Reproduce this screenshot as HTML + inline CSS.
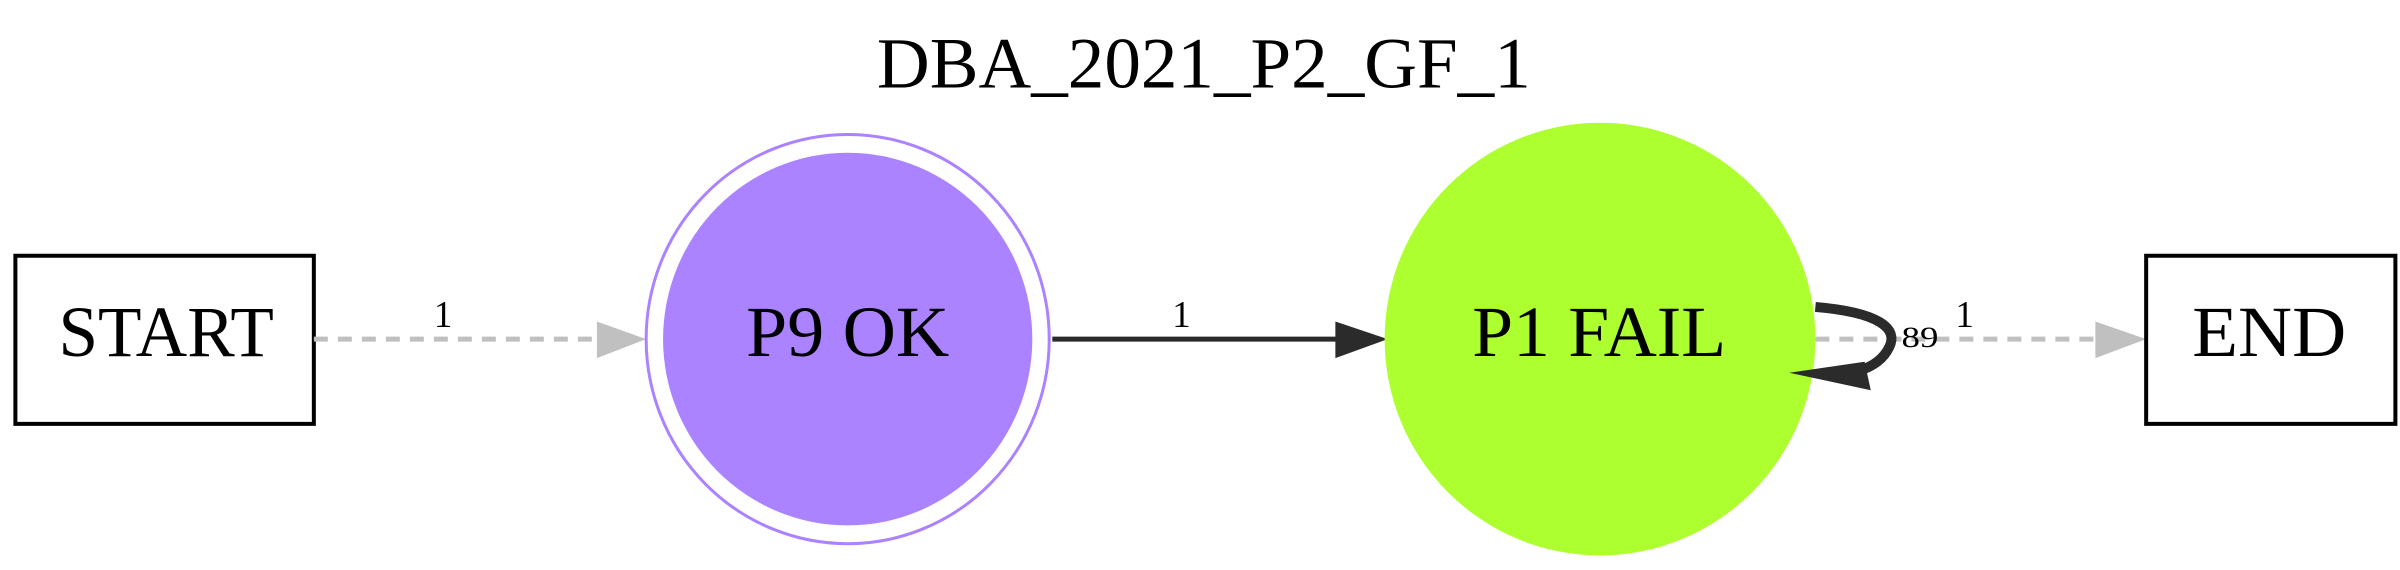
<!DOCTYPE html>
<html><head><meta charset="utf-8"><style>html,body{margin:0;padding:0;background:#fff}svg{display:block}</style></head>
<body>
<svg width="2400" height="570" viewBox="0 0 1560 1560" preserveAspectRatio="none" xmlns="http://www.w3.org/2000/svg" font-family="Liberation Serif, serif">
<rect width="1560" height="1560" fill="#fff"/>
<text x="570" y="240" font-size="196" textLength="425" lengthAdjust="spacingAndGlyphs">DBA_2021_P2_GF_1</text>
<rect x="10" y="700" width="194" height="460" fill="#fff" stroke="#000" stroke-width="4" vector-effect="non-scaling-stroke"/>
<text x="38" y="975" font-size="196" textLength="140" lengthAdjust="spacingAndGlyphs">START</text>
<line x1="204" y1="928" x2="390" y2="928" stroke="#c0c0c0" stroke-width="5" stroke-dasharray="14,10" vector-effect="non-scaling-stroke"/>
<polygon points="388,880 420,928 388,980" fill="#c0c0c0"/>
<text x="282" y="895" font-size="105" textLength="12" lengthAdjust="spacingAndGlyphs">1</text>
<ellipse cx="551" cy="928" rx="131" ry="560" fill="#fff" stroke="#ab82ff" stroke-width="3" vector-effect="non-scaling-stroke"/>
<ellipse cx="551" cy="928" rx="120" ry="510" fill="#ab82ff"/>
<text x="485" y="975" font-size="196" textLength="132" lengthAdjust="spacingAndGlyphs">P9 OK</text>
<line x1="684" y1="928" x2="872" y2="928" stroke="#2b2b2b" stroke-width="5" vector-effect="non-scaling-stroke"/>
<polygon points="868,880 902,928 868,980" fill="#2b2b2b"/>
<text x="762" y="895" font-size="105" textLength="12" lengthAdjust="spacingAndGlyphs">1</text>
<ellipse cx="1040" cy="928" rx="140" ry="592" fill="#adff2f"/>
<text x="957" y="975" font-size="196" textLength="165" lengthAdjust="spacingAndGlyphs">P1 FAIL</text>
<line x1="1180" y1="928" x2="1365" y2="928" stroke="#c0c0c0" stroke-width="5" stroke-dasharray="14,10" vector-effect="non-scaling-stroke"/>
<polygon points="1362,880 1395,928 1362,980" fill="#c0c0c0"/>
<text x="1271" y="895" font-size="105" textLength="12" lengthAdjust="spacingAndGlyphs">1</text>
<path d="M1180,840 C1222,855 1234,900 1228,950 C1224,985 1216,1005 1208,1015" fill="none" stroke="#2b2b2b" stroke-width="10" vector-effect="non-scaling-stroke"/>
<polygon points="1163,1020 1216,1068 1212,990" fill="#2b2b2b"/>
<text x="1236" y="950" font-size="80" textLength="24" lengthAdjust="spacingAndGlyphs">89</text>
<rect x="1395" y="700" width="162" height="460" fill="#fff" stroke="#000" stroke-width="4" vector-effect="non-scaling-stroke"/>
<text x="1425" y="975" font-size="196" textLength="100" lengthAdjust="spacingAndGlyphs">END</text>
</svg>
</body></html>
